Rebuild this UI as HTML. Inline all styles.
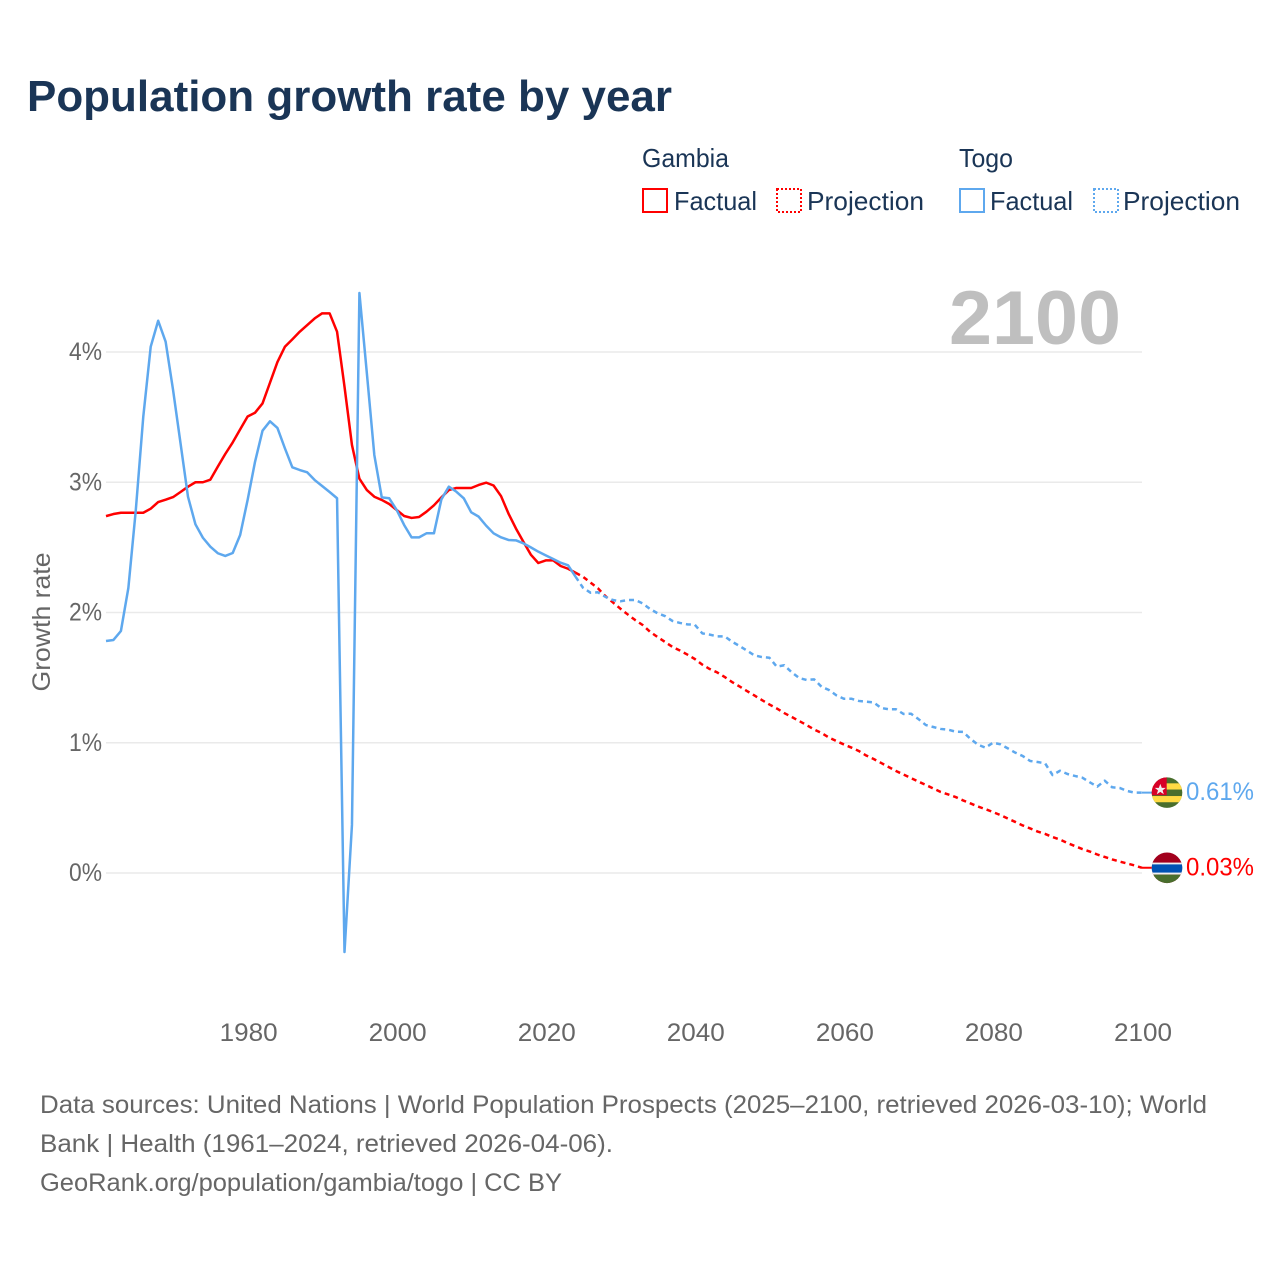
<!DOCTYPE html>
<html lang="en">
<head>
<meta charset="utf-8">
<title>Population growth rate by year</title>
<style>
  html, body { margin: 0; padding: 0; background: #fff; }
  svg { display: block; font-family: "Liberation Sans", sans-serif; }
</style>
</head>
<body>
<svg id="chart" xmlns="http://www.w3.org/2000/svg" width="1280" height="1280" viewBox="0 0 1280 1280">
  <rect x="0" y="0" width="1280" height="1280" fill="#ffffff"/>
  <text x="27" y="111" font-size="44" font-weight="700" fill="#1a3556" textLength="645" lengthAdjust="spacingAndGlyphs">Population growth rate by year</text>

  <g font-size="26" fill="#1a3556">
    <text x="642" y="167" textLength="87" lengthAdjust="spacingAndGlyphs">Gambia</text>
    <rect x="643" y="189" width="24" height="23" fill="none" stroke="#ff0000" stroke-width="2"/>
    <text x="674" y="210" textLength="83" lengthAdjust="spacingAndGlyphs">Factual</text>
    <rect x="777" y="189" width="24" height="23" fill="none" stroke="#ff0000" stroke-width="2" stroke-dasharray="2 2"/>
    <text x="807" y="210" textLength="117" lengthAdjust="spacingAndGlyphs">Projection</text>
    <text x="959" y="167" textLength="54" lengthAdjust="spacingAndGlyphs">Togo</text>
    <rect x="960" y="189" width="24" height="23" fill="none" stroke="#5ea8ee" stroke-width="2"/>
    <text x="990" y="210" textLength="83" lengthAdjust="spacingAndGlyphs">Factual</text>
    <rect x="1094" y="189" width="24" height="23" fill="none" stroke="#5ea8ee" stroke-width="2" stroke-dasharray="2 2"/>
    <text x="1123" y="210" textLength="117" lengthAdjust="spacingAndGlyphs">Projection</text>
  </g>

  <g id="grid"></g>
  <g id="y-ticks"></g>
  <g id="x-ticks"></g>
  <text transform="translate(50 622) rotate(-90)" text-anchor="middle" font-size="25" fill="#666666" textLength="139" lengthAdjust="spacingAndGlyphs">Growth rate</text>
  <text x="949" y="344" font-size="76" font-weight="700" fill="#bfbfbf" textLength="172" lengthAdjust="spacingAndGlyphs">2100</text>

  <g id="series"></g>

  <defs>
    <clipPath id="flag-clip"><circle cx="0" cy="0" r="15.3"/></clipPath>
  </defs>
  <g id="flag-togo">
    <g clip-path="url(#flag-clip)">
      <rect x="-16" y="-16" width="32" height="32" fill="#496e2d"/>
      <rect x="-16" y="-9.3" width="32" height="6.2" fill="#ffda44"/>
      <rect x="-16" y="3.4" width="32" height="6.2" fill="#ffda44"/>
      <rect x="-16" y="-16" width="15.7" height="18.6" fill="#d80027"/>
      <polygon transform="translate(0.8 -0.7)" points="-7.5,-8 -6,-4 -2,-4 -5.2,-1.6 -4,2.3 -7.5,0 -11,2.3 -9.8,-1.6 -13,-4 -9,-4" fill="#f0f0f0"/>
    </g>
  </g>
  <g id="flag-gambia">
    <g clip-path="url(#flag-clip)">
      <rect x="-16" y="-16" width="32" height="32" fill="#a2001d"/>
      <rect x="-16" y="-5.2" width="32" height="12" fill="#f0f0f0"/>
      <rect x="-16" y="-3.4" width="32" height="8.2" fill="#0052b4"/>
      <rect x="-16" y="6.8" width="32" height="10" fill="#496e2d"/>
    </g>
  </g>
  <text id="value-togo" x="1186" y="800" font-size="25" fill="#5ea8ee" textLength="68" lengthAdjust="spacingAndGlyphs"></text>
  <text id="value-gambia" x="1186" y="875" font-size="25" fill="#ff0000" textLength="68" lengthAdjust="spacingAndGlyphs"></text>

  <g font-size="25" fill="#666666">
    <text x="40" y="1113" textLength="1167" lengthAdjust="spacingAndGlyphs">Data sources: United Nations | World Population Prospects (2025–2100, retrieved 2026-03-10); World</text>
    <text x="40" y="1152" textLength="573" lengthAdjust="spacingAndGlyphs">Bank | Health (1961–2024, retrieved 2026-04-06).</text>
    <text x="40" y="1191" textLength="522" lengthAdjust="spacingAndGlyphs">GeoRank.org/population/gambia/togo | CC BY</text>
  </g>
</svg>

<script>
const factualStartYear = 1961;
const projectionStartYear = 2024;

const xTickYears = [1980, 2000, 2020, 2040, 2060, 2080, 2100];
const xTickLabels = ["1980", "2000", "2020", "2040", "2060", "2080", "2100"];
const yTickValues = [0, 1, 2, 3, 4];
const yTickLabels = ["0%", "1%", "2%", "3%", "4%"];

const gambiaFactual = [2.74,2.756,2.766,2.766,2.766,2.766,2.797,2.848,2.866,2.886,
  2.925,2.966,3.0,3.0,3.02,3.12,3.217,3.306,3.406,3.505,
  3.534,3.605,3.764,3.923,4.04,4.097,4.156,4.207,4.258,4.297,
  4.297,4.156,3.734,3.286,3.027,2.94,2.889,2.864,2.833,2.787,
  2.741,2.726,2.733,2.774,2.823,2.884,2.94,2.956,2.956,2.956,
  2.979,2.997,2.975,2.894,2.76,2.645,2.543,2.444,2.38,2.40,
  2.40,2.357,2.336,2.305];

const gambiaProjection = [2.305,2.274,2.23,2.186,2.126,2.078,2.03,1.985,1.942,1.904,
  1.852,1.812,1.774,1.736,1.708,1.677,1.643,1.60,1.566,1.54,
  1.505,1.466,1.432,1.397,1.363,1.328,1.294,1.263,1.228,1.198,
  1.167,1.136,1.102,1.075,1.04,1.013,0.987,0.963,0.937,0.902,
  0.875,0.845,0.814,0.783,0.756,0.729,0.702,0.676,0.649,0.622,
  0.603,0.583,0.557,0.534,0.51,0.49,0.468,0.445,0.418,0.392,
  0.365,0.342,0.318,0.30,0.276,0.257,0.23,0.207,0.184,0.165,
  0.142,0.123,0.104,0.088,0.073,0.058,0.04];

const togoFactual = [1.781,1.789,1.858,2.188,2.787,3.503,4.041,4.24,4.079,3.708,
  3.299,2.889,2.677,2.574,2.505,2.455,2.434,2.457,2.595,2.864,
  3.158,3.396,3.468,3.417,3.261,3.115,3.094,3.076,3.017,2.971,
  2.925,2.877,-0.607,0.369,4.453,3.837,3.209,2.884,2.877,2.787,
  2.672,2.577,2.577,2.608,2.608,2.869,2.966,2.928,2.877,2.769,
  2.736,2.667,2.608,2.577,2.557,2.554,2.531,2.5,2.467,2.439,
  2.411,2.382,2.362,2.275];

const togoProjection = [2.275,2.19,2.152,2.155,2.12,2.096,2.086,2.096,2.096,2.07,
  2.027,1.994,1.973,1.935,1.92,1.909,1.906,1.84,1.83,1.817,
  1.817,1.776,1.743,1.707,1.671,1.658,1.653,1.584,1.595,1.541,
  1.497,1.482,1.487,1.43,1.405,1.364,1.338,1.338,1.321,1.315,
  1.31,1.267,1.257,1.257,1.221,1.223,1.182,1.136,1.121,1.106,
  1.10,1.085,1.083,1.029,0.985,0.962,1.0,0.988,0.957,0.924,
  0.898,0.86,0.852,0.842,0.752,0.785,0.76,0.745,0.732,0.696,
  0.663,0.709,0.658,0.653,0.63,0.617,0.617];

const togoEndLabel = "0.61%";
const gambiaEndLabel = "0.03%";

const NS = "http://www.w3.org/2000/svg";
const plotLeft = 106, plotRight = 1142, yearMin = 1961, yearMax = 2100;
const yZero = 873, yPerUnit = 130.25;
const RED = "#ff0000", BLUE = "#5ea8ee";

function xScale(year) {
  return plotLeft + (year - yearMin) * (plotRight - plotLeft) / (yearMax - yearMin);
}
function yScale(value) {
  return yZero - value * yPerUnit;
}
function linePath(values, startYear) {
  return values.map(function (v, i) {
    return (i ? "L" : "M") + xScale(startYear + i).toFixed(2) + " " + yScale(v).toFixed(2);
  }).join(" ");
}

const gridLayer = document.getElementById("grid");
const yTickLayer = document.getElementById("y-ticks");
const xTickLayer = document.getElementById("x-ticks");
const seriesLayer = document.getElementById("series");

yTickValues.forEach(function (v, i) {
  const line = document.createElementNS(NS, "line");
  
  
  line.setAttribute("x1", plotLeft);
  line.setAttribute("x2", plotRight);
  line.setAttribute("y1", yScale(v));
  line.setAttribute("y2", yScale(v));
  line.setAttribute("stroke", "#eaeaea");
  line.setAttribute("stroke-width", "1.5");
  gridLayer.appendChild(line);

  const label = document.createElementNS(NS, "text");
  
  
  label.setAttribute("x", 69);
  label.setAttribute("y", yScale(v) + 8);
  label.setAttribute("font-size", "25");
  label.setAttribute("fill", "#666666");
  label.setAttribute("textLength", "33");
  label.setAttribute("lengthAdjust", "spacingAndGlyphs");
  label.textContent = yTickLabels[i];
  yTickLayer.appendChild(label);
});

xTickYears.forEach(function (year, i) {
  const label = document.createElementNS(NS, "text");
  
  
  label.setAttribute("x", xScale(year) - 28);
  label.setAttribute("y", 1041);
  label.setAttribute("font-size", "25");
  label.setAttribute("fill", "#666666");
  label.setAttribute("textLength", "58");
  label.setAttribute("lengthAdjust", "spacingAndGlyphs");
  label.textContent = xTickLabels[i];
  xTickLayer.appendChild(label);
});

function addLine(values, startYear, colour, dashed, name) {
  const path = document.createElementNS(NS, "path");
  
  
  path.setAttribute("d", linePath(values, startYear));
  path.setAttribute("fill", "none");
  path.setAttribute("stroke", colour);
  path.setAttribute("stroke-width", "2.5");
  path.setAttribute("stroke-linejoin", "round");
  if (dashed) path.setAttribute("stroke-dasharray", "5 4");
  seriesLayer.appendChild(path);
}

addLine(gambiaFactual, factualStartYear, RED, false, "gambia-factual-line");
addLine(gambiaProjection, projectionStartYear, RED, true, "gambia-projection-line");
addLine(togoFactual, factualStartYear, BLUE, false, "togo-factual-line");
addLine(togoProjection, projectionStartYear, BLUE, true, "togo-projection-line");

function placeEnd(values, colour, flagId, textId, labelText, connectorName) {
  const lastY = yScale(values[values.length - 1]);
  const flagX = 1167;
  const connector = document.createElementNS(NS, "line");
  
  
  connector.setAttribute("x1", xScale(yearMax));
  connector.setAttribute("x2", flagX);
  connector.setAttribute("y1", lastY);
  connector.setAttribute("y2", lastY);
  connector.setAttribute("stroke", colour);
  connector.setAttribute("stroke-width", "2");
  seriesLayer.appendChild(connector);
  document.getElementById(flagId).setAttribute("transform", "translate(" + flagX + " " + lastY + ")");
  const t = document.getElementById(textId);
  t.setAttribute("y", lastY + 7.5);
  t.textContent = labelText;
}

placeEnd(togoProjection, BLUE, "flag-togo", "value-togo", togoEndLabel, "togo-end-connector");
placeEnd(gambiaProjection, RED, "flag-gambia", "value-gambia", gambiaEndLabel, "gambia-end-connector");
</script>
</body>
</html>
